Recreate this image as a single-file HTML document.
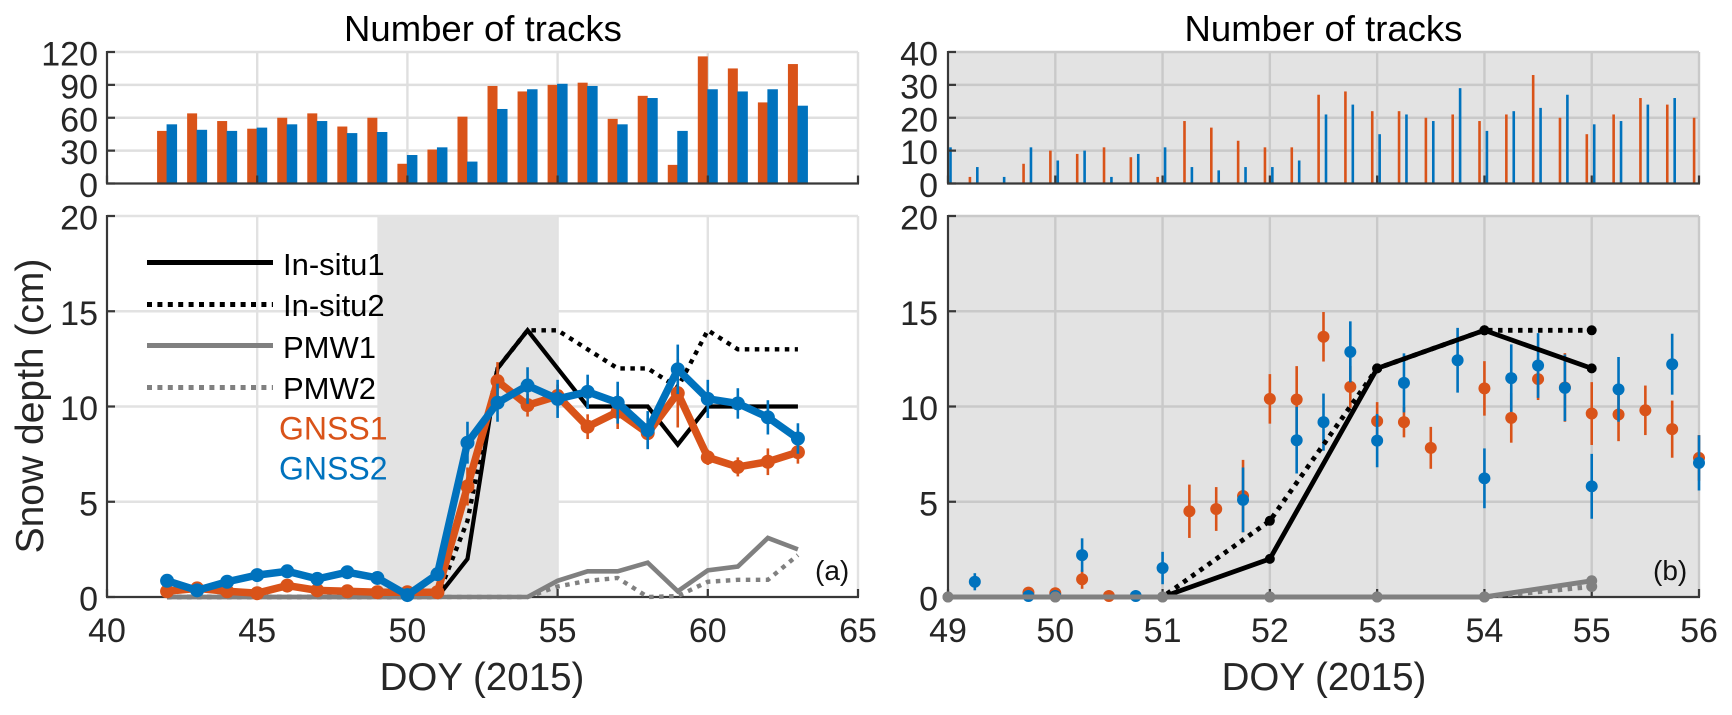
<!DOCTYPE html>
<html>
<head>
<meta charset="utf-8">
<title>Number of tracks and snow depth</title>
<style>
html,body{margin:0;padding:0;background:#fff;width:1732px;height:715px;overflow:hidden}
svg{display:block;font-family:"Liberation Sans",sans-serif;filter:blur(0.35px)}
</style>
</head>
<body>
<svg id="chart" width="1732" height="715" viewBox="0 0 1732 715" xmlns="http://www.w3.org/2000/svg"></svg>
<script>
// ---------- panel (a) data ----------
const leftDays = [42,43,44,45,46,47,48,49,50,51,52,53,54,55,56,57,58,59,60,61,62,63];
const leftTracks1 = [48,64,57,50,60,64,52,60,18,31,61,89,84,90,92,59,80,17,116,105,74,109];
const leftTracks2 = [54,49,48,51,54,57,46,47,26,33,20,68,86,91,89,54,78,48,86,84,86,71];
const leftInsitu1 = [0,0,0,0,0,0,0,0,0,0,2,12,14,12,10,10,10,8,10,10,10,10];
const leftInsitu2 = [0,0,0,0,0,0,0,0,0,0,4,12,14,14,13,12,12,11,14,13,13,13];
const leftPmw1 = [0,0,0,0,0,0,0,0,0,0,0,0,0,0.85,1.35,1.35,1.8,0.3,1.4,1.6,3.1,2.5];
const leftPmw2 = [0,0,0,0,0,0,0,0,0,0,0,0,0,0.55,0.85,1.0,0,0.05,0.8,0.9,0.9,2.2];
const leftGnss1 = [0.3,0.45,0.3,0.2,0.6,0.35,0.3,0.25,0.25,0.25,5.8,11.33,10.07,10.55,8.94,9.72,8.6,10.7,7.33,6.83,7.1,7.6];
const leftGnss1Err = [0.15,0.15,0.15,0.15,0.2,0.15,0.15,0.15,0.15,0.15,1.0,1.0,0.6,0.6,0.65,0.9,0.8,1.8,0.4,0.5,0.7,0.6];
const leftGnss2 = [0.85,0.35,0.8,1.15,1.35,0.95,1.3,1.0,0.1,1.2,8.1,10.2,11.1,10.4,10.77,10.2,8.76,11.95,10.4,10.16,9.43,8.32];
const leftGnss2Err = [0.2,0.15,0.2,0.2,0.2,0.2,0.2,0.2,0.15,0.3,1.1,1.0,0.96,1.0,0.9,1.1,1.0,1.3,1.0,0.8,0.9,0.8];

// ---------- panel (b) data ----------
const rightDays = [49,49.25,49.5,49.75,50,50.25,50.5,50.75,51,51.25,51.5,51.75,52,52.25,52.5,52.75,53,53.25,53.5,53.75,54,54.25,54.5,54.75,55,55.25,55.5,55.75,56];
const rightTracks1 = [0,2,0,6,10,9,11,8,2,19,17,13,11,11,27,28,22,22,20,21,19,21,33,20,15,21,26,24,20];
const rightTracks2 = [11,5,2,11,7,10,2,9,11,5,4,5,5,7,21,24,15,21,19,29,16,22,23,27,18,19,24,26,null];
const rightGnss1 = [null,null,null,0.23,0.2,0.93,0.05,null,null,4.5,4.62,5.3,10.4,10.37,13.66,11.03,9.23,9.18,7.83,null,10.95,9.4,11.44,11,9.63,9.58,9.8,8.81,7.3];
const rightGnss1Err = [0,0,0,0.1,0.1,0.5,0.1,0,0,1.4,1.15,1.9,1.3,1.75,1.3,1.1,1.0,0.8,1.1,0,1.43,1.3,1.1,1.8,1.65,1.4,1.3,1.5,1.2];
const rightGnss2 = [null,0.8,null,0.05,0.05,2.2,null,0.05,1.52,null,null,5.1,null,8.23,9.18,12.87,8.21,11.24,null,12.43,6.23,11.49,12.15,10.98,5.81,10.9,null,12.22,7.04];
const rightGnss2Err = [0,0.45,0,0.1,0.1,0.88,0,0.1,0.85,0,0,1.7,0,1.75,1.5,1.6,1.4,1.55,0,1.7,1.57,1.77,1.7,1.75,1.7,1.7,0,1.6,1.45];
const rightLineDays = [49,50,51,52,53,54,55];
const rightInsitu1 = [0,0,0,2,12,14,12];
const rightInsitu2 = [0,0,0,4,12,14,14];
const rightPmw1 = [0,0,0,0,0,0,0.85];
const rightPmw2 = [0,0,0,0,0,0,0.55];

// ---------- tick labels ----------
const leftXTicks = [40,45,50,55,60,65];
const rightXTicks = [49,50,51,52,53,54,55,56];
const depthTicks = [0,5,10,15,20];
const leftCountTicks = [0,30,60,90,120];
const rightCountTicks = [0,10,20,30,40];
const legendLabels = ['In-situ1','In-situ2','PMW1','PMW2','GNSS1','GNSS2'];

// ---------- axis scales ----------
const lx = d => 107 + (d - 40) * 751 / 25;
const rx = d => 948 + (d - 49) * 751 / 7;
const yd = v => 597 - v * 381 / 20;
const ycL = v => 183.5 - v * 131.5 / 120;
const ycR = v => 183.5 - v * 131.5 / 40;

const ORANGE = '#D95319', BLUE = '#0072BD', GREY = '#808080', TICK = '#262626';
const svg = document.getElementById('chart');

function mk(tag, attrs, parent) {
  const el = document.createElementNS('http://www.w3.org/2000/svg', tag);
  for (const k in attrs) el.setAttribute(k, attrs[k]);
  parent.appendChild(el);
  return el;
}
function group(parent) { return mk('g', {}, parent); }
function lineEl(x1, y1, x2, y2, color, w, parent) {
  return mk('line', {x1: x1, y1: y1, x2: x2, y2: y2, stroke: color, 'stroke-width': w}, parent);
}
function txt(x, y, s, size, color, anchor, parent) {
  const t = mk('text', {x: x, y: y, 'font-size': size, fill: color, 'text-anchor': anchor}, parent);
  t.textContent = s;
  return t;
}
function pts(xs, ys, fx, fy) { return xs.map((d, i) => fx(d) + ',' + fy(ys[i])).join(' '); }

function drawGrid(xTicks, yTicks, fx, fy, x0, x1, y0, y1, color, parent) {
  xTicks.forEach(d => {
    if (fx(d) === x0) return;
    const g = lineEl(fx(d), y0, fx(d), y1, color, 2.4, parent);
    
    
  });
  yTicks.forEach(v => {
    if (fy(v) === y1) return;
    const g = lineEl(x0, fy(v), x1, fy(v), color, 2.4, parent);
    
    
  });
}
function drawAxes(xTicks, yTicks, fx, fy, x0, y1, parent) {
  const xa = lineEl(x0 - 1, y1, fx(xTicks[xTicks.length - 1]) + 1, y1, '#383838', 2.2, parent);
  
  
  const ya = lineEl(x0, y1, x0, fy(yTicks[yTicks.length - 1]) - 1, '#383838', 2.2, parent);
  
  
  xTicks.forEach(d => {
    const t = lineEl(fx(d), y1, fx(d), y1 - 8, '#383838', 2.2, parent);
    
    
  });
  yTicks.forEach(v => {
    const t = lineEl(x0, fy(v), x0 + 8, fy(v), '#383838', 2.2, parent);
    
    
  });
}
function drawYLabels(yTicks, fy, xEnd, parent) {
  yTicks.forEach(v => {
    const t = txt(xEnd, fy(v) + 13.5, String(v), 34, TICK, 'end', parent);
    
    
  });
}
function drawXLabels(xTicks, fx, parent) {
  xTicks.forEach(d => {
    const t = txt(fx(d), 642, String(d), 34, TICK, 'middle', parent);
    
    
  });
}
function drawPolyline(xs, ys, fx, fy, color, w, dash, name, parent) {
  const attrs = {points: pts(xs, ys, fx, fy), fill: 'none', stroke: color, 'stroke-width': w, 'stroke-linejoin': 'miter'};
  if (dash) attrs['stroke-dasharray'] = dash;
  const p = mk('polyline', attrs, parent);
  
  
  return p;
}
function drawDots(xs, ys, fx, fy, r, color, name, parent) {
  xs.forEach((d, i) => {
    if (ys[i] === null) return;
    const c = mk('circle', {cx: fx(d), cy: fy(ys[i]), r: r, fill: color}, parent);
    
    
  });
}
function drawErrors(xs, ys, errs, fx, fy, color, name, parent) {
  xs.forEach((d, i) => {
    if (ys[i] === null) return;
    const e = lineEl(fx(d), fy(ys[i] - errs[i]), fx(d), fy(ys[i] + errs[i]), color, 2.6, parent);
    
    
  });
}
function drawBars(xs, ys, fx, fy, offset, width, color, name, parent) {
  xs.forEach((d, i) => {
    if (ys[i] === null) return;
    const r = mk('rect', {x: fx(d) + offset, y: fy(ys[i]), width: width, height: fy(0) - fy(ys[i]), fill: color}, parent);
    
    
  });
}

// ---------- top-left panel ----------
const topLeft = group(svg);


drawGrid(leftXTicks, leftCountTicks, lx, ycL, 107, 858, 52, 183.5, '#dfdfdf', topLeft);
drawBars(leftDays, leftTracks1, lx, ycL, -10, 10, ORANGE, 'bar-gnss1-tracks', topLeft);
drawBars(leftDays, leftTracks2, lx, ycL, -0.5, 10.5, BLUE, 'bar-gnss2-tracks', topLeft);
drawAxes(leftXTicks, leftCountTicks, lx, ycL, 107, 183.5, topLeft);
drawYLabels(leftCountTicks, ycL, 98, topLeft);
const titleL = txt(483, 41, 'Number of tracks', 36.5, '#000', 'middle', topLeft);



// ---------- top-right panel ----------
const topRight = group(svg);


const bgTR = mk('rect', {x: 948, y: 52, width: 751, height: 131.5, fill: '#e3e3e3'}, topRight);


drawGrid(rightXTicks, rightCountTicks, rx, ycR, 948, 1699, 52, 183.5, '#c9c9c9', topRight);
drawBars(rightDays, rightTracks1, rx, ycR, -6.2, 2.6, ORANGE, 'bar-gnss1-tracks', topRight);
drawBars(rightDays, rightTracks2, rx, ycR, 1.2, 2.6, BLUE, 'bar-gnss2-tracks', topRight);
drawAxes(rightXTicks, rightCountTicks, rx, ycR, 948, 183.5, topRight);
drawYLabels(rightCountTicks, ycR, 938, topRight);
const titleR = txt(1323.5, 41, 'Number of tracks', 36.5, '#000', 'middle', topRight);



// ---------- bottom-left panel ----------
const botLeft = group(svg);


drawGrid(leftXTicks, depthTicks, lx, yd, 107, 858, 216, 597, '#e2e2e2', botLeft);
const patch = mk('rect', {x: lx(49), y: 215, width: lx(55) - lx(49), height: 382, fill: '#e3e3e3'}, botLeft);


drawAxes(leftXTicks, depthTicks, lx, yd, 107, 597, botLeft);
drawYLabels(depthTicks, yd, 98, botLeft);
drawXLabels(leftXTicks, lx, botLeft);
drawPolyline(leftDays, leftInsitu1, lx, yd, '#000', 4.2, null, 'line-in-situ1', botLeft);
drawPolyline(leftDays, leftInsitu2, lx, yd, '#000', 4.4, '4.5 5.5', 'line-in-situ2', botLeft);
drawPolyline(leftDays, leftPmw1, lx, yd, GREY, 4.6, null, 'line-pmw1', botLeft);
drawPolyline(leftDays, leftPmw2, lx, yd, GREY, 4.4, '4.5 5.5', 'line-pmw2', botLeft);
drawErrors(leftDays, leftGnss1, leftGnss1Err, lx, yd, ORANGE, 'errorbar-gnss1', botLeft);
drawPolyline(leftDays, leftGnss1, lx, yd, ORANGE, 7.5, null, 'line-gnss1', botLeft);
drawDots(leftDays, leftGnss1, lx, yd, 7, ORANGE, 'point-gnss1', botLeft);
drawErrors(leftDays, leftGnss2, leftGnss2Err, lx, yd, BLUE, 'errorbar-gnss2', botLeft);
drawPolyline(leftDays, leftGnss2, lx, yd, BLUE, 7.5, null, 'line-gnss2', botLeft);
drawDots(leftDays, leftGnss2, lx, yd, 7, BLUE, 'point-gnss2', botLeft);
const labelA = txt(815, 580, '(a)', 28, '#111', 'start', botLeft);


const xtL = txt(482, 690, 'DOY (2015)', 38.5, TICK, 'middle', botLeft);


const ytL = txt(0, 0, 'Snow depth (cm)', 39, TICK, 'middle', botLeft);
ytL.setAttribute('transform', 'translate(43,406) rotate(-90)');



// ---------- legend ----------
const legend = group(botLeft);


const legendKeys = [
  {y: 262.5, c: '#000', d: null},
  {y: 304.5, c: '#000', d: '5 5.4'},
  {y: 345.5, c: GREY, d: null},
  {y: 387.5, c: GREY, d: '5 5.4'}
];
const legendBase = [275, 316, 358, 399, 439.5, 479.5];
const legendColors = ['#000', '#000', '#000', '#000', ORANGE, BLUE];
const legendX = [283, 283, 283, 283, 279, 279];
const legendSizes = [31, 31, 31, 31, 32, 32];
legendKeys.forEach((k, i) => {
  const a = lineEl(147, k.y, 273, k.y, k.c, 5, legend);
  if (k.d) a.setAttribute('stroke-dasharray', k.d);
  
  
});
legendLabels.forEach((s, i) => {
  const t = txt(legendX[i], legendBase[i], s, legendSizes[i], legendColors[i], 'start', legend);
  
  
});

// ---------- bottom-right panel ----------
const botRight = group(svg);


const bgBR = mk('rect', {x: 948, y: 216, width: 751, height: 381, fill: '#e3e3e3'}, botRight);


drawGrid(rightXTicks, depthTicks, rx, yd, 948, 1699, 216, 597, '#c9c9c9', botRight);
drawAxes(rightXTicks, depthTicks, rx, yd, 948, 597, botRight);
drawYLabels(depthTicks, yd, 938, botRight);
drawXLabels(rightXTicks, rx, botRight);
drawErrors(rightDays, rightGnss1, rightGnss1Err, rx, yd, ORANGE, 'errorbar-gnss1', botRight);
drawDots(rightDays, rightGnss1, rx, yd, 6, ORANGE, 'point-gnss1', botRight);
drawErrors(rightDays, rightGnss2, rightGnss2Err, rx, yd, BLUE, 'errorbar-gnss2', botRight);
drawDots(rightDays, rightGnss2, rx, yd, 6, BLUE, 'point-gnss2', botRight);
drawPolyline(rightLineDays, rightInsitu2, rx, yd, '#000', 4.8, '4.5 5.5', 'line-in-situ2', botRight);
drawDots(rightLineDays, rightInsitu2, rx, yd, 5, '#000', 'point-in-situ2', botRight);
drawPolyline(rightLineDays, rightInsitu1, rx, yd, '#000', 4.8, null, 'line-in-situ1', botRight);
drawDots(rightLineDays, rightInsitu1, rx, yd, 5, '#000', 'point-in-situ1', botRight);
drawPolyline(rightLineDays, rightPmw2, rx, yd, GREY, 5, '4.5 5.5', 'line-pmw2', botRight);
drawDots(rightLineDays, rightPmw2, rx, yd, 5.5, GREY, 'point-pmw2', botRight);
drawPolyline(rightLineDays, rightPmw1, rx, yd, GREY, 5, null, 'line-pmw1', botRight);
drawDots(rightLineDays, rightPmw1, rx, yd, 5.5, GREY, 'point-pmw1', botRight);
const labelB = txt(1653, 580, '(b)', 28, '#111', 'start', botRight);


const xtR = txt(1324, 690, 'DOY (2015)', 38.5, TICK, 'middle', botRight);


</script>
</body>
</html>
